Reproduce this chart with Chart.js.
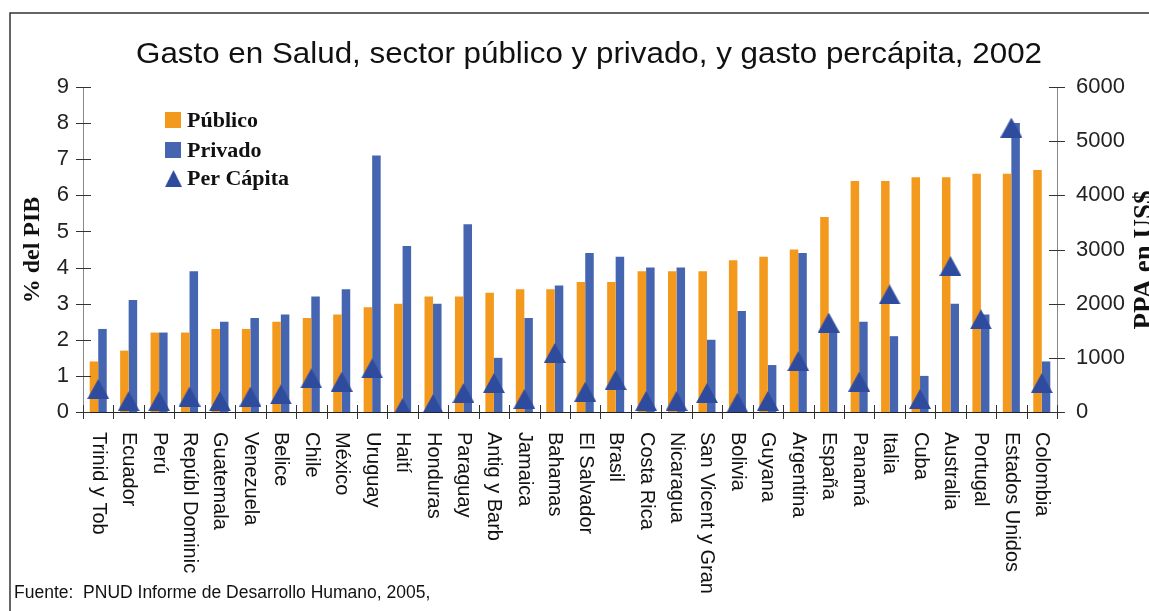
<!DOCTYPE html>
<html>
<head>
<meta charset="utf-8">
<script src="https://cdn.jsdelivr.net/npm/chart.js@4/dist/chart.umd.min.js"></script>
<style>
  body { margin: 0; background: #fff; }
</style>
</head>
<body>
<canvas id="myChart" width="1149" height="611"></canvas>
<script>
//data
const paises = ["Trinid y Tob", "Ecuador", "Perú", "Repúbl Dominic", "Guatemala", "Venezuela", "Belice", "Chile", "México", "Uruguay", "Haití", "Honduras", "Paraguay", "Antig y Barb", "Jamaica", "Bahamas", "El Salvador", "Brasil", "Costa Rica", "Nicaragua", "San Vicent y Gran", "Bolivia", "Guyana", "Argentina", "España", "Panamá", "Italia", "Cuba", "Australia", "Portugal", "Estados Unidos", "Colombia"];
const publico = [1.4, 1.7, 2.2, 2.2, 2.3, 2.3, 2.5, 2.6, 2.7, 2.9, 3.0, 3.2, 3.2, 3.3, 3.4, 3.4, 3.6, 3.6, 3.9, 3.9, 3.9, 4.2, 4.3, 4.5, 5.4, 6.4, 6.4, 6.5, 6.5, 6.6, 6.6, 6.7];
const privado = [2.3, 3.1, 2.2, 3.9, 2.5, 2.6, 2.7, 3.2, 3.4, 7.1, 4.6, 3.0, 5.2, 1.5, 2.6, 3.5, 4.4, 4.3, 4.0, 4.0, 2.0, 2.8, 1.3, 4.4, 2.2, 2.5, 2.1, 1.0, 3.0, 2.7, 8.0, 1.4];
const perCapita = [425, 200, 200, 285, 200, 285, 325, 620, 560, 805, 75, 145, 350, 535, 240, 1090, 375, 590, 205, 205, 350, 170, 205, 940, 1650, 560, 2170, 240, 2695, 1710, 5250, 535];

const naranja = "#F39A1E";
const azul = "#4665B0";
const azulOscuro = "#2F4B9E";
const sans = "'Liberation Sans', Arial, sans-serif";
const serif = "'Liberation Serif', 'Times New Roman', serif";

//triangle marker, centered on its box like the excel one
const tri = document.createElement("canvas");
tri.width = 22;
tri.height = 20;
const tctx = tri.getContext("2d");
tctx.fillStyle = azulOscuro;
tctx.beginPath();
tctx.moveTo(11, 0);
tctx.lineTo(22, 20);
tctx.lineTo(0, 20);
tctx.closePath();
tctx.fill();

//everything excel draws that chart.js does not: title, frame, labels, legend, ticks
const extras = {
  id: "extras",
  afterDraw(chart) {
    const c = chart.ctx;
    const x = chart.scales.x;
    const y = chart.scales.y;
    const y2 = chart.scales.y2;
    c.save();

    //frame
    c.strokeStyle = "#333";
    c.lineWidth = 1.5;
    c.beginPath();
    c.moveTo(10, 611);
    c.lineTo(10, 13);
    c.lineTo(1149, 13);
    c.stroke();

    //title (excel's arial is a bit wider, stretch to the same width)
    const titulo = "Gasto en Salud, sector público y privado, y gasto percápita, 2002";
    c.fillStyle = "#111";
    c.font = "29px " + sans;
    c.textAlign = "center";
    c.textBaseline = "alphabetic";
    const sx = 906 / c.measureText(titulo).width;
    c.save();
    c.translate(589, 63);
    c.scale(sx, 1);
    c.fillText(titulo, 0, 0);
    c.restore();

    //tick marks crossing the axes
    c.strokeStyle = "#333";
    c.lineWidth = 1;
    c.beginPath();
    y.ticks.forEach((t) => {
      const py = Math.round(y.getPixelForValue(t.value)) + 0.5;
      c.moveTo(y.right - 7, py);
      c.lineTo(y.right + 8, py);
    });
    y2.ticks.forEach((t) => {
      const py = Math.round(y2.getPixelForValue(t.value)) + 0.5;
      c.moveTo(y2.left - 8, py);
      c.lineTo(y2.left + 8, py);
    });
    const half = (x.getPixelForValue(1) - x.getPixelForValue(0)) / 2;
    for (let i = 0; i <= paises.length; i++) {
      const px = Math.round(x.getPixelForValue(i) - half) + 0.5;
      c.moveTo(px, x.top - 7);
      c.lineTo(px, x.top + 7);
    }
    c.stroke();

    //category labels, rotated clockwise
    c.fillStyle = "#111";
    c.font = "20px " + sans;
    c.textAlign = "left";
    c.textBaseline = "middle";
    paises.forEach((p, i) => {
      c.save();
      c.translate(x.getPixelForValue(i), 432);
      c.rotate(Math.PI / 2);
      c.fillText(p, 0, 0);
      c.restore();
    });

    //axis titles
    c.textAlign = "center";
    c.textBaseline = "alphabetic";
    c.font = "bold 24px " + serif;
    c.save();
    c.translate(39, 250);
    c.rotate(-Math.PI / 2);
    c.fillText("% del PIB", 0, 0);
    c.restore();
    c.font = "bold 27px " + serif;
    c.save();
    c.translate(1152, 260);
    c.rotate(-Math.PI / 2);
    c.fillText("PPA en US$", 0, 0);
    c.restore();

    //legend
    c.fillStyle = naranja;
    c.fillRect(165, 112, 16, 16);
    c.fillStyle = azul;
    c.fillRect(165, 142, 16, 16);
    c.drawImage(tri, 165, 170, 17, 17);
    c.fillStyle = "#111";
    c.font = "bold 22px " + serif;
    c.textAlign = "left";
    c.fillText("Público", 187, 127);
    c.fillText("Privado", 187, 157);
    c.fillText("Per Cápita", 187, 185);

    //source
    c.font = "17.5px " + sans;
    c.fillText("Fuente:  PNUD Informe de Desarrollo Humano, 2005,", 14, 598);
    c.restore();
  },
};

const ctx = document.getElementById("myChart");
const myChart = new Chart(ctx, {
  type: "bar",
  data: {
    labels: paises,
    datasets: [
      {
        label: "Público",
        data: publico,
        backgroundColor: naranja,
        yAxisID: "y",
        order: 2,
        categoryPercentage: 0.56,
        barPercentage: 1,
      },
      {
        label: "Privado",
        data: privado,
        backgroundColor: azul,
        yAxisID: "y",
        order: 2,
        categoryPercentage: 0.56,
        barPercentage: 1,
      },
      {
        type: "line",
        label: "Per Cápita",
        data: perCapita,
        yAxisID: "y2",
        showLine: false,
        pointStyle: tri,
        pointRadius: 12,
        order: 1,
      },
    ],
  },
  options: {
    responsive: false,
    animation: false,
    layout: {
      padding: { top: 87, left: 0, right: 0, bottom: 0 },
    },
    plugins: {
      legend: { display: false },
      tooltip: { enabled: false },
    },
    scales: {
      x: {
        grid: { display: false },
        border: { color: "#222" },
        ticks: { display: false },
        afterFit: (s) => {
          s.height = 199;
        },
      },
      y: {
        position: "left",
        min: 0,
        max: 9,
        grid: { display: false, drawTicks: false },
        border: { color: "#888" },
        ticks: {
          stepSize: 1,
          padding: 14,
          color: "#222",
          font: { family: sans, size: 22 },
          callback: (v) => String(v),
        },
        afterFit: (s) => {
          s.width = 83;
        },
      },
      y2: {
        position: "right",
        min: 0,
        max: 6000,
        grid: { display: false, drawTicks: false },
        border: { color: "#888" },
        ticks: {
          stepSize: 1000,
          padding: 19,
          color: "#222",
          font: { family: sans, size: 22 },
          callback: (v) => String(v),
        },
        afterFit: (s) => {
          s.width = 92;
        },
      },
    },
  },
  plugins: [extras],
});
</script>
</body>
</html>
